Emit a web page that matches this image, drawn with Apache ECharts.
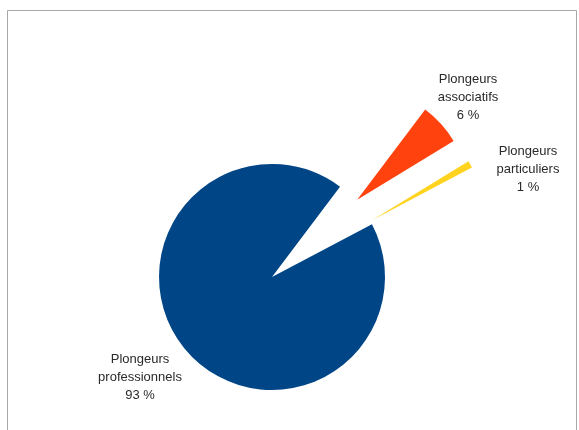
<!DOCTYPE html>
<html>
<head>
<meta charset="utf-8">
<script src="https://cdn.jsdelivr.net/npm/echarts@6/dist/echarts.min.js"></script>
<style>html,body{margin:0;padding:0;background:#fff;}#c{width:579px;height:430px;}</style>
</head>
<body>
<div id="c"></div>
<script>
const categories = ['Plongeurs\nassociatifs', 'Plongeurs\nparticuliers', 'Plongeurs\nprofessionnels'];
const values = [6, 1, 93];
const exploded = [true, true, false];
const colors = ['#ff420e', '#ffd320', '#004586'];

const labelPos = [
  { x: 468, y: 97 },
  { x: 528, y: 169 },
  { x: 140, y: 377 }
];

const chart = echarts.init(document.getElementById('c'), null, { renderer: 'canvas' });
chart.setOption({
  animation: false,
  backgroundColor: '#ffffff',
  graphic: [{
    type: 'rect',
    shape: { x: 7.5, y: 10.5, width: 569, height: 440 },
    style: { fill: 'none', stroke: '#a8a8a8', lineWidth: 1 },
    silent: true
  }].concat(categories.map((c, i) => ({
    type: 'text',
    x: labelPos[i].x,
    y: labelPos[i].y,
    silent: true,
    style: {
      text: c + '\n' + values[i] + ' %',
      fontFamily: 'Liberation Sans, Arial, sans-serif',
      fontSize: 13,
      lineHeight: 18,
      fill: '#2a2a2a',
      align: 'center',
      verticalAlign: 'middle'
    }
  }))),
  series: [{
    type: 'pie',
    center: [272, 277],
    radius: [0, 113],
    startAngle: 53,
    clockwise: true,
    selectedMode: 'multiple',
    selectedOffset: 115,
    label: { show: false },
    labelLine: { show: false },
    itemStyle: { borderWidth: 0 },
    emphasis: { disabled: true },
    data: categories.map((c, i) => ({
      name: c,
      value: values[i],
      selected: exploded[i],
      itemStyle: { color: colors[i] }
    }))
  }]
});
</script>
</body>
</html>
